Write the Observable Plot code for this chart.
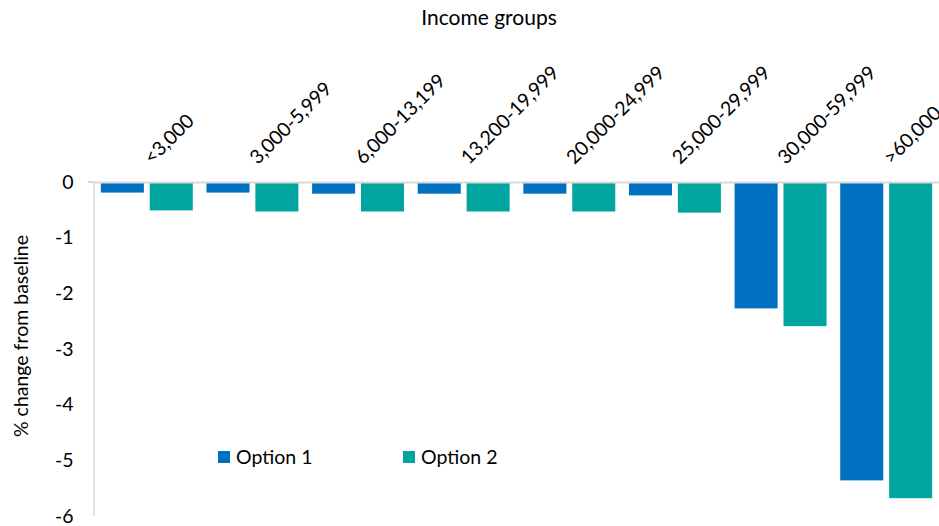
<!DOCTYPE html>
<html>
<head>
<meta charset="utf-8">
<script src="https://cdn.jsdelivr.net/npm/d3@7"></script>
<script src="https://cdn.jsdelivr.net/npm/@observablehq/plot@0.6"></script>
<style>
  body { margin: 0; background: #fff; font-family: Lato, "Open Sans", sans-serif; }
  #wrap { position: relative; width: 939px; height: 526px; overflow: hidden; }
  #chart { position: absolute; left: 0; top: 0; }
  .title { position: absolute; left: 0; width: 978px; top: 4px; text-align: center; font-size: 21px; color: #000; }
  .ylabel { position: absolute; left: 20px; top: 336px; transform: translate(-50%, -50%) rotate(-90deg); white-space: nowrap; font-size: 19.5px; color: #000; }
  .legend { position: absolute; top: 445px; font-size: 19.5px; color: #000; display: flex; align-items: center; }
  .legend span.sw { display: inline-block; width: 12px; height: 12px; margin-right: 6px; }
</style>
</head>
<body>
<div id="wrap">
  <div id="chart"></div>
  <div class="title">Income groups</div>
  <div class="ylabel">% change from baseline</div>
  <div class="legend" style="left:218px"><span class="sw" style="background:#0070C0"></span>Option 1</div>
  <div class="legend" style="left:403px"><span class="sw" style="background:#00A59F"></span>Option 2</div>
</div>
<script>
const categories = ["<3,000","3,000-5,999","6,000-13,199","13,200-19,999","20,000-24,999","25,000-29,999","30,000-59,999",">60,000"];
const seriesNames = ["Option 1","Option 2"];
const option1 = [-0.19,-0.19,-0.21,-0.21,-0.21,-0.24,-2.27,-5.36];
const option2 = [-0.51,-0.53,-0.53,-0.53,-0.53,-0.55,-2.59,-5.68];
const yTicks = [0,-1,-2,-3,-4,-5,-6];
const colors = ["#0070C0","#00A59F"];

const rows = [];
categories.forEach((c, i) => {
  rows.push({cat: c, option: seriesNames[0], value: option1[i]});
  rows.push({cat: c, option: seriesNames[1], value: option2[i]});
});

const W = 939, H = 526, ML = 94, MT = 182, MB = 10;
const chart = Plot.plot({
  width: W, height: H,
  marginLeft: ML, marginRight: 0, marginTop: MT, marginBottom: MB,
  style: {fontFamily: "Lato, 'Open Sans', sans-serif", fontSize: "19.5px", color: "#000", background: "#fff"},
  fx: {domain: categories, padding: 0, round: false, axis: null},
  x: {domain: seriesNames, paddingInner: 0.12, paddingOuter: 0.14, round: false, axis: null},
  y: {domain: [-6, 0], ticks: yTicks, label: null},
  color: {domain: seriesNames, range: colors},
  marks: [
    Plot.axisY({ticks: yTicks, tickSize: 0, tickPadding: 21, label: null, tickFormat: d => String(d).replace("−","-")}),
    Plot.barY(rows, {fx: "cat", x: "option", y: "value", fill: "option"}),
    Plot.ruleY([0], {stroke: "#d9d9d9", strokeWidth: 2}),
    Plot.text(categories, {fx: d => d, text: d => d, frameAnchor: "top", rotate: -45, textAnchor: "start", dx: -5, dy: -27, fill: "#000"})
  ]
});
document.getElementById("chart").appendChild(chart);

// vertical axis line on the left, from scale
const ys = chart.scale("y");
d3.select(chart).append("line")
  .attr("x1", ML).attr("x2", ML)
  .attr("y1", ys.apply(0)).attr("y2", ys.apply(-6))
  .attr("stroke", "#d9d9d9").attr("stroke-width", 1.5);
d3.select(chart).append("line")
  .attr("x1", ML - 6).attr("x2", ML)
  .attr("y1", ys.apply(0)).attr("y2", ys.apply(0))
  .attr("stroke", "#d9d9d9").attr("stroke-width", 2);
</script>
</body>
</html>
